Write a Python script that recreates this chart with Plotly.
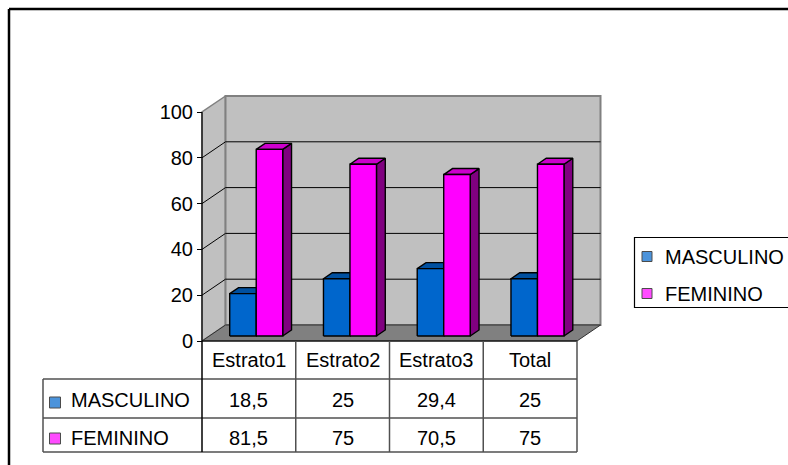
import plotly.graph_objects as go

# ---- data -------------------------------------------------------------
categories = ["Estrato1", "Estrato2", "Estrato3", "Total"]
series_names = ["MASCULINO", "FEMININO"]
masculino = [18.5, 25, 29.4, 25]
feminino = [81.5, 75, 70.5, 75]
y_ticks = [0, 20, 40, 60, 80, 100]

series_values = [masculino, feminino]
front_colors = ["#0066CC", "#FF00FF"]
top_colors = ["#0050A0", "#CC00CC"]
side_colors = ["#003D7A", "#800080"]

# ---- geometry ---------------------------------------------------------
W, H = 788, 465
X_PX0, X_SCALE = 202.0, 93.75      # pixel of the left category edge, px per category
Y_PX0, Y_SCALE = 341.0, 2.29       # pixel of value 0, px per value unit


def ux(px):
    return (px - X_PX0) / X_SCALE - 0.5


def uy(py):
    return (Y_PX0 - py) / Y_SCALE


DX = 23.5 / X_SCALE   # depth of the 3-D box, in category units
DY = 16.0 / Y_SCALE   # depth of the 3-D box, in value units
F0, F1 = 0.3125, 0.6875  # bar depth band (fraction of box depth)
BW = 26.5 / X_SCALE   # width of a single bar
YMAX = 100
n = len(categories)
XL, XR = -0.5, n - 0.5

FONT = "Arial, 'Liberation Sans', sans-serif"

fig = go.Figure()


def poly(xs, ys, fill, line_color="black", line_width=1.0):
    fig.add_trace(go.Scatter(
        x=list(xs) + [xs[0]], y=list(ys) + [ys[0]], mode="lines",
        fill="toself", fillcolor=fill,
        line=dict(color=line_color, width=line_width),
        hoverinfo="skip", showlegend=False))


def seg(xs, ys, color="black", width=1.0):
    fig.add_trace(go.Scatter(
        x=xs, y=ys, mode="lines", line=dict(color=color, width=width),
        hoverinfo="skip", showlegend=False))


# walls and floor
poly([XL, XL + DX, XL + DX, XL], [0, DY, YMAX + DY, YMAX], "#C0C0C0", "#808080", 1.5)
poly([XL + DX, XR + DX, XR + DX, XL + DX], [DY, DY, YMAX + DY, YMAX + DY],
     "#C0C0C0", "#808080", 2)
poly([XL, XR, XR + DX, XL + DX], [0, 0, DY, DY], "#808080", "#303030", 1)

# gridlines on the back wall and the side wall
for t in y_ticks[1:-1]:
    seg([XL, XL + DX, XR + DX], [t, t + DY, t + DY], "black", 1)

# bars
for i in range(n):
    for s, vals in enumerate(series_values):
        v = vals[i]
        xl = i - BW + s * BW
        xr = xl + BW
        a0x, a0y = F0 * DX, F0 * DY
        a1x, a1y = F1 * DX, F1 * DY
        # side
        poly([xr + a0x, xr + a1x, xr + a1x, xr + a0x],
             [a0y, a1y, v + a1y, v + a0y], side_colors[s], "black", 1.4)
        # top
        poly([xl + a0x, xr + a0x, xr + a1x, xl + a1x],
             [v + a0y, v + a0y, v + a1y, v + a1y], top_colors[s], "black", 1.4)
        # front
        poly([xl + a0x, xr + a0x, xr + a0x, xl + a0x],
             [a0y, a0y, v + a0y, v + a0y], front_colors[s], "black", 1.4)

# value axis line
seg([XL, XL], [0, YMAX], "black", 1.2)

# ---- data table -------------------------------------------------------
row_tops = [uy(379), uy(418), uy(452)]
x_label_left = ux(43)
tbl_color = "#505050"
seg([XL, XR], [0, 0], "black", 1.2)
for yy in row_tops:
    seg([x_label_left, XR], [yy, yy], tbl_color, 1.5)
seg([x_label_left, x_label_left], [row_tops[0], row_tops[-1]], tbl_color, 1.5)
for k in range(n + 1):
    seg([XL + k, XL + k], [0, row_tops[-1]], "black" if k == 0 else tbl_color, 1.5)

annotations = []
header_y = uy(360)
row_text_y = [uy(400), uy(438)]
for i, c in enumerate(categories):
    annotations.append(dict(x=i, y=header_y, text=c, showarrow=False,
                            font=dict(family=FONT, size=20, color="black"),
                            xanchor="center", yanchor="middle"))
for s, vals in enumerate(series_values):
    for i, v in enumerate(vals):
        annotations.append(dict(x=i, y=row_text_y[s],
                                text=f"{v:g}".replace(".", ","), showarrow=False,
                                font=dict(family=FONT, size=20, color="black"),
                                xanchor="center", yanchor="middle"))
    annotations.append(dict(x=ux(69), y=row_text_y[s], text=series_names[s],
                            showarrow=False,
                            font=dict(family=FONT, size=20, color="black"),
                            xanchor="left", yanchor="middle"))

# colour keys in the table and in the legend box
fig.add_trace(go.Scatter(
    x=[ux(55), ux(55), ux(647), ux(647)],
    y=[uy(402.5), uy(438.5), uy(256.5), uy(293.5)],
    mode="markers",
    marker=dict(symbol="square", size=[11, 11, 10, 10],
                color=[front_colors[0], front_colors[1], front_colors[0], front_colors[1]],
                line=dict(color="black", width=1)),
    hoverinfo="skip", showlegend=False))

# legend box
shapes = [
    dict(type="rect", xref="x", yref="y", x0=ux(634.5), x1=ux(820),
         y0=uy(237.5), y1=uy(307.5), line=dict(color="black", width=1.2),
         fillcolor="rgba(0,0,0,0)"),
    # outer chart border
    dict(type="line", xref="x", yref="y", x0=ux(9), x1=ux(820), y0=uy(9), y1=uy(9),
         line=dict(color="black", width=2.5)),
    dict(type="line", xref="x", yref="y", x0=ux(9), x1=ux(9), y0=uy(9), y1=uy(500),
         line=dict(color="black", width=2.5)),
]
for s, name in enumerate(series_names):
    annotations.append(dict(x=ux(663), y=uy([256.5, 293.5][s]), text=name,
                            showarrow=False,
                            font=dict(family=FONT, size=20, color="black"),
                            xanchor="left", yanchor="middle"))

fig.update_layout(
    width=W, height=H, autosize=False,
    margin=dict(l=0, r=0, t=0, b=0, pad=0),
    paper_bgcolor="white", plot_bgcolor="white",
    showlegend=False,
    annotations=annotations, shapes=shapes,
    xaxis=dict(range=[ux(0), ux(W)], domain=[0, 1], visible=False,
               fixedrange=True),
    yaxis=dict(range=[uy(H), uy(0)], domain=[0, 1], anchor="free",
               position=X_PX0 / W, tickvals=y_ticks, ticks="outside",
               ticklen=5, tickcolor="black", tickwidth=1,
               showgrid=False, zeroline=False, showline=False,
               tickfont=dict(family=FONT, size=20, color="black"),
               fixedrange=True),
)

fig.write_html("out.html")
